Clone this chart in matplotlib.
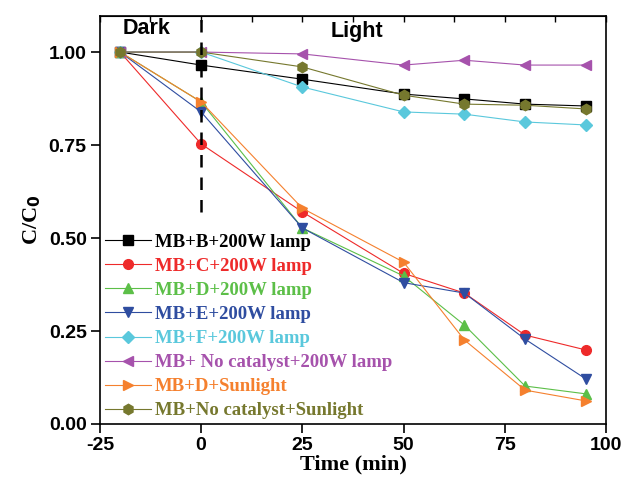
import numpy as np
import matplotlib.pyplot as plt
from matplotlib.ticker import MultipleLocator

plt.rcParams["axes.unicode_minus"] = False

time = [-20, 0, 25, 50, 65, 80, 95]
mb_b = [1.0, 0.965, 0.927, 0.887, 0.874, 0.860, 0.855]
mb_c = [1.0, 0.753, 0.570, 0.405, 0.352, 0.239, 0.199]
mb_d = [1.0, 0.866, 0.527, 0.398, 0.266, 0.102, 0.081]
mb_e = [1.0, 0.839, 0.527, 0.380, 0.352, 0.228, 0.121]
mb_f = [1.0, 1.0, 0.906, 0.839, 0.833, 0.812, 0.804]
mb_nocat_lamp = [1.0, 1.0, 0.995, 0.965, 0.978, 0.965, 0.965]
mb_d_sun = [1.0, 0.866, 0.580, 0.435, 0.226, 0.091, 0.062]
mb_nocat_sun = [1.0, 1.0, 0.960, 0.884, 0.860, 0.857, 0.847]

labels = ["MB+B+200W lamp", "MB+C+200W lamp", "MB+D+200W lamp", "MB+E+200W lamp",
          "MB+F+200W lamp", "MB+ No catalyst+200W lamp", "MB+D+Sunlight",
          "MB+No catalyst+Sunlight"]
series = [mb_b, mb_c, mb_d, mb_e, mb_f, mb_nocat_lamp, mb_d_sun, mb_nocat_sun]
colors = ["#000000", "#ee2a2a", "#5cbf48", "#2f4da0", "#5ac8dc", "#a652ac", "#f5802e", "#76782e"]
markers = ["s", "o", "^", "v", "D", "<", ">", "h"]
sizes = [6.5, 7, 7.5, 7.5, 6, 7.5, 7.5, 7.5]

fig = plt.figure(figsize=(6.36, 4.84), dpi=100)
ax = fig.add_axes([0.157, 0.124, 0.796, 0.843])

for y, lab, c, m, s in zip(series, labels, colors, markers, sizes):
    ax.plot(time, y, color=c, marker=m, markersize=s, linewidth=0.8, label=lab)

# dark/light boundary, stops above the legend
ax.axvline(0, ymin=0.52, ymax=1.0, color="black", linestyle=(0, (5, 4)), linewidth=1.8)

ax.set_xlim(-25, 100)
ax.set_ylim(0, 1.097)
ax.xaxis.set_major_locator(MultipleLocator(25))
ax.yaxis.set_major_locator(MultipleLocator(0.25))
ax.yaxis.set_major_formatter(plt.FormatStrFormatter("%.2f"))
ax.tick_params(axis="both", which="major", direction="out", length=6.5, width=1.2, pad=3)
for lab in ax.get_xticklabels() + ax.get_yticklabels():
    lab.set_fontfamily("Liberation Sans")
    lab.set_fontweight("bold")
    lab.set_fontsize(14)
for sp in ax.spines.values():
    sp.set_linewidth(1.2)

# top ticks
sec = ax.secondary_xaxis("top")
sec.xaxis.set_major_locator(MultipleLocator(12.5))
sec.tick_params(direction="in", length=4, width=1)
sec.set_xticklabels([])

ax.set_xlabel("Time (min)", fontfamily="Liberation Serif", fontweight="bold", fontsize=16, labelpad=0)
ax.set_ylabel(r"C/C$_\mathbf{0}$", fontfamily="Liberation Serif", fontweight="bold", fontsize=16, labelpad=4)

ax.text(-13.4, 1.062, "Dark", fontfamily="Liberation Sans", fontweight="bold", fontsize=15.5, ha="center", va="center")
ax.text(38.5, 1.055, "Light", fontfamily="Liberation Sans", fontweight="bold", fontsize=15.5, ha="center", va="center")

leg = ax.legend(loc="lower left", bbox_to_anchor=(0.0, 0.0), frameon=False, handlelength=2.5,
                borderaxespad=0.0, borderpad=0.25, labelspacing=0.37, handletextpad=0.2,
                prop={"family": "Liberation Serif", "weight": "bold", "size": 13.5})
for txt, c in zip(leg.get_texts(), colors):
    txt.set_color(c)

fig.savefig("out.png", dpi=100)
